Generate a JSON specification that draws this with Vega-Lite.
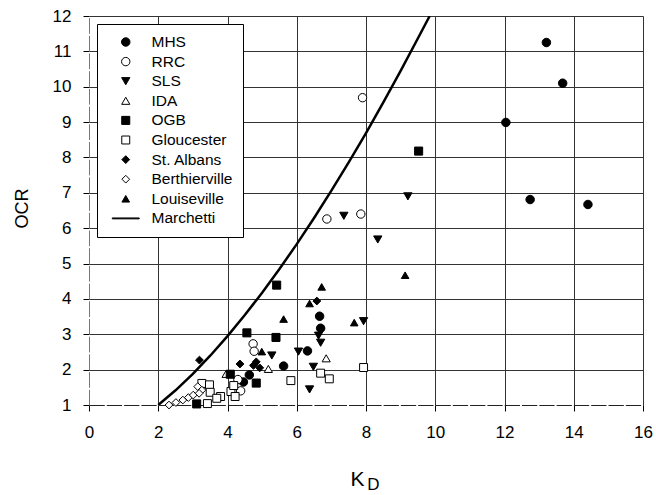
{
  "$schema": "https://vega.github.io/schema/vega-lite/v6.json",
  "width": 554,
  "height": 389,
  "autosize": {"type": "none"},
  "padding": {"left": 89, "top": 16, "right": 13, "bottom": 90},
  "config": {
    "view": {"stroke": null},
    "font": "Liberation Sans",
    "axis": {"labelFont": "Liberation Sans", "titleFont": "Liberation Sans", "labelColor": "black", "titleColor": "black", "titleFontWeight": "normal", "tickColor": "black"},
    "legend": {"orient": "top-left", "offset": 8, "padding": 10, "strokeColor": "black", "fillColor": "white", "labelFont": "Liberation Sans", "labelFontSize": 15.5, "labelColor": "black", "rowPadding": 2.6, "clipHeight": 16, "symbolOpacity": 1, "symbolOffset": 11, "labelOffset": 18, "symbolStrokeWidth": 1.2}
  },
  "datasets": {
    "curve": [
      {"KD": 2, "OCR": 1},
      {"KD": 2.5, "OCR": 1.416},
      {"KD": 3, "OCR": 1.882},
      {"KD": 3.5, "OCR": 2.394},
      {"KD": 4, "OCR": 2.949},
      {"KD": 4.5, "OCR": 3.543},
      {"KD": 5, "OCR": 4.176},
      {"KD": 5.5, "OCR": 4.846},
      {"KD": 6, "OCR": 5.55},
      {"KD": 6.5, "OCR": 6.288},
      {"KD": 7, "OCR": 7.06},
      {"KD": 7.5, "OCR": 7.86},
      {"KD": 8, "OCR": 8.69},
      {"KD": 8.5, "OCR": 9.556},
      {"KD": 9, "OCR": 10.45},
      {"KD": 9.5, "OCR": 11.37},
      {"KD": 9.84, "OCR": 12.0}
    ],
    "pts": [
      {"KD": 13.21, "OCR": 11.25, "series": "MHS"},
      {"KD": 13.68, "OCR": 10.1, "series": "MHS"},
      {"KD": 12.04, "OCR": 8.99, "series": "MHS"},
      {"KD": 12.74, "OCR": 6.81, "series": "MHS"},
      {"KD": 14.41, "OCR": 6.67, "series": "MHS"},
      {"KD": 6.66, "OCR": 3.51, "series": "MHS"},
      {"KD": 6.69, "OCR": 3.17, "series": "MHS"},
      {"KD": 6.31, "OCR": 2.53, "series": "MHS"},
      {"KD": 5.62, "OCR": 2.1, "series": "MHS"},
      {"KD": 4.63, "OCR": 1.85, "series": "MHS"},
      {"KD": 4.46, "OCR": 1.65, "series": "MHS"},
      {"KD": 7.9, "OCR": 9.69, "series": "RRC"},
      {"KD": 6.87, "OCR": 6.26, "series": "RRC"},
      {"KD": 7.85, "OCR": 6.4, "series": "RRC"},
      {"KD": 4.74, "OCR": 2.73, "series": "RRC"},
      {"KD": 4.77, "OCR": 2.52, "series": "RRC"},
      {"KD": 4.3, "OCR": 1.72, "series": "RRC"},
      {"KD": 4.38, "OCR": 1.4, "series": "RRC"},
      {"KD": 7.36, "OCR": 6.35, "series": "SLS"},
      {"KD": 9.21, "OCR": 6.9, "series": "SLS"},
      {"KD": 8.34, "OCR": 5.68, "series": "SLS"},
      {"KD": 7.93, "OCR": 3.37, "series": "SLS"},
      {"KD": 6.63, "OCR": 2.96, "series": "SLS"},
      {"KD": 6.69, "OCR": 2.76, "series": "SLS"},
      {"KD": 6.05, "OCR": 2.51, "series": "SLS"},
      {"KD": 6.48, "OCR": 2.08, "series": "SLS"},
      {"KD": 6.37, "OCR": 1.44, "series": "SLS"},
      {"KD": 5.28, "OCR": 2.4, "series": "SLS"},
      {"KD": 6.85, "OCR": 2.32, "series": "IDA"},
      {"KD": 5.18, "OCR": 2.02, "series": "IDA"},
      {"KD": 3.96, "OCR": 1.88, "series": "IDA"},
      {"KD": 9.52, "OCR": 8.18, "series": "OGB"},
      {"KD": 5.42, "OCR": 4.39, "series": "OGB"},
      {"KD": 4.56, "OCR": 3.04, "series": "OGB"},
      {"KD": 5.4, "OCR": 2.91, "series": "OGB"},
      {"KD": 4.08, "OCR": 1.87, "series": "OGB"},
      {"KD": 4.83, "OCR": 1.62, "series": "OGB"},
      {"KD": 3.11, "OCR": 1.03, "series": "OGB"},
      {"KD": 5.83, "OCR": 1.69, "series": "Gloucester"},
      {"KD": 6.69, "OCR": 1.9, "series": "Gloucester"},
      {"KD": 6.94, "OCR": 1.74, "series": "Gloucester"},
      {"KD": 7.93, "OCR": 2.06, "series": "Gloucester"},
      {"KD": 3.26, "OCR": 1.61, "series": "Gloucester"},
      {"KD": 3.48, "OCR": 1.57, "series": "Gloucester"},
      {"KD": 3.5, "OCR": 1.36, "series": "Gloucester"},
      {"KD": 3.8, "OCR": 1.24, "series": "Gloucester"},
      {"KD": 4.1, "OCR": 1.38, "series": "Gloucester"},
      {"KD": 4.18, "OCR": 1.55, "series": "Gloucester"},
      {"KD": 4.22, "OCR": 1.24, "series": "Gloucester"},
      {"KD": 3.42, "OCR": 1.04, "series": "Gloucester"},
      {"KD": 3.69, "OCR": 1.19, "series": "Gloucester"},
      {"KD": 3.19, "OCR": 2.27, "series": "St. Albans"},
      {"KD": 4.36, "OCR": 2.16, "series": "St. Albans"},
      {"KD": 4.75, "OCR": 2.12, "series": "St. Albans"},
      {"KD": 4.83, "OCR": 2.22, "series": "St. Albans"},
      {"KD": 4.93, "OCR": 2.05, "series": "St. Albans"},
      {"KD": 6.58, "OCR": 3.94, "series": "St. Albans"},
      {"KD": 2.31, "OCR": 1.0, "series": "Berthierville"},
      {"KD": 2.51, "OCR": 1.07, "series": "Berthierville"},
      {"KD": 2.71, "OCR": 1.14, "series": "Berthierville"},
      {"KD": 2.87, "OCR": 1.21, "series": "Berthierville"},
      {"KD": 3.01, "OCR": 1.28, "series": "Berthierville"},
      {"KD": 3.14, "OCR": 1.52, "series": "Berthierville"},
      {"KD": 3.26, "OCR": 1.42, "series": "Berthierville"},
      {"KD": 3.18, "OCR": 1.33, "series": "Berthierville"},
      {"KD": 9.13, "OCR": 4.67, "series": "Louiseville"},
      {"KD": 6.72, "OCR": 4.34, "series": "Louiseville"},
      {"KD": 6.37, "OCR": 3.87, "series": "Louiseville"},
      {"KD": 5.62, "OCR": 3.43, "series": "Louiseville"},
      {"KD": 7.66, "OCR": 3.33, "series": "Louiseville"},
      {"KD": 4.99, "OCR": 2.51, "series": "Louiseville"}
    ]
  },
  "layer": [
    {
      "data": {"name": "curve"},
      "mark": {"type": "line", "color": "black", "strokeWidth": 2.5, "clip": true},
      "encoding": {
        "x": {"field": "KD", "type": "quantitative", "scale": {"domain": [0, 16], "nice": false, "zero": false},
          "axis": {"orient": "bottom", "values": [2, 4, 6, 8, 10, 12, 14, 16], "grid": true, "gridColor": "#333", "gridWidth": 1, "domain": false, "ticks": false, "labels": false, "title": "D", "titleFontSize": 17, "titleX": 284, "titleY": 84, "titleAlign": "center", "titleBaseline": "alphabetic"}},
        "y": {"field": "OCR", "type": "quantitative", "scale": {"domain": [1, 12], "nice": false, "zero": false},
          "axis": {"orient": "left", "values": [2, 3, 4, 5, 6, 7, 8, 9, 10, 11, 12], "grid": true, "gridColor": "#333", "gridWidth": 1, "domain": false, "ticks": false, "labels": false, "title": null}}
      }
    },
    {
      "data": {"name": "pts"},
      "mark": {"type": "point", "opacity": 1, "fillOpacity": 1},
      "encoding": {
        "x": {"field": "KD", "type": "quantitative",
          "axis": {"orient": "bottom", "values": [0, 2, 4, 6, 8, 10, 12, 14, 16], "grid": false, "domainColor": "#222", "domainDash": [15.3, 2], "tickSize": 6, "labelFontSize": 17, "labelPadding": 13, "labelFlush": false, "labelOverlap": false, "title": "K", "titleFontSize": 21, "titleX": 268, "titleY": 80, "titleAlign": "center", "titleBaseline": "alphabetic"}},
        "y": {"field": "OCR", "type": "quantitative",
          "axis": {"orient": "left", "values": [1, 2, 3, 4, 5, 6, 7, 8, 9, 10, 11, 12], "grid": false, "domainColor": "#777", "domainDash": [15.7, 2], "tickSize": 6, "labelFontSize": 17, "labelPadding": 12, "title": "OCR", "titleFontSize": 18, "titleX": -62, "titleY": 192, "titleAlign": "center", "titleBaseline": "alphabetic", "titleAngle": -90}},
        "shape": {"field": "series", "type": "nominal", "legend": {"title": null},
          "scale": {"domain": ["MHS", "RRC", "SLS", "IDA", "OGB", "Gloucester", "St. Albans", "Berthierville", "Louiseville", "Marchetti"],
            "range": ["circle", "circle", "triangle-down", "triangle-up", "square", "square", "diamond", "diamond", "triangle-up", "M-3.6,-0.12L3.6,-0.12L3.6,0.12L-3.6,0.12Z"]}},
        "fill": {"field": "series", "type": "nominal", "legend": {"title": null},
          "scale": {"domain": ["MHS", "RRC", "SLS", "IDA", "OGB", "Gloucester", "St. Albans", "Berthierville", "Louiseville", "Marchetti"],
            "range": ["black", "white", "black", "white", "black", "white", "black", "white", "black", "black"]}},
        "stroke": {"field": "series", "type": "nominal", "legend": {"title": null},
          "scale": {"domain": ["MHS", "RRC", "SLS", "IDA", "OGB", "Gloucester", "St. Albans", "Berthierville", "Louiseville", "Marchetti"],
            "range": ["black", "black", "black", "black", "black", "black", "black", "black", "black", "black"]}},
        "size": {"field": "series", "type": "ordinal", "legend": {"title": null},
          "scale": {"domain": ["MHS", "RRC", "SLS", "IDA", "OGB", "Gloucester", "St. Albans", "Berthierville", "Louiseville", "Marchetti"],
            "range": [72, 56, 100, 100, 81, 81, 130, 130, 100, 100]}},
        "strokeWidth": {"field": "series", "type": "ordinal", "legend": {"title": null},
          "scale": {"domain": ["MHS", "RRC", "SLS", "IDA", "OGB", "Gloucester", "St. Albans", "Berthierville", "Louiseville", "Marchetti"],
            "range": [1, 1, 1, 1, 1, 1, 1, 1, 1, 2.5]}}
      }
    }
  ],
  "resolve": {"axis": {"x": "independent", "y": "independent"}}
}
